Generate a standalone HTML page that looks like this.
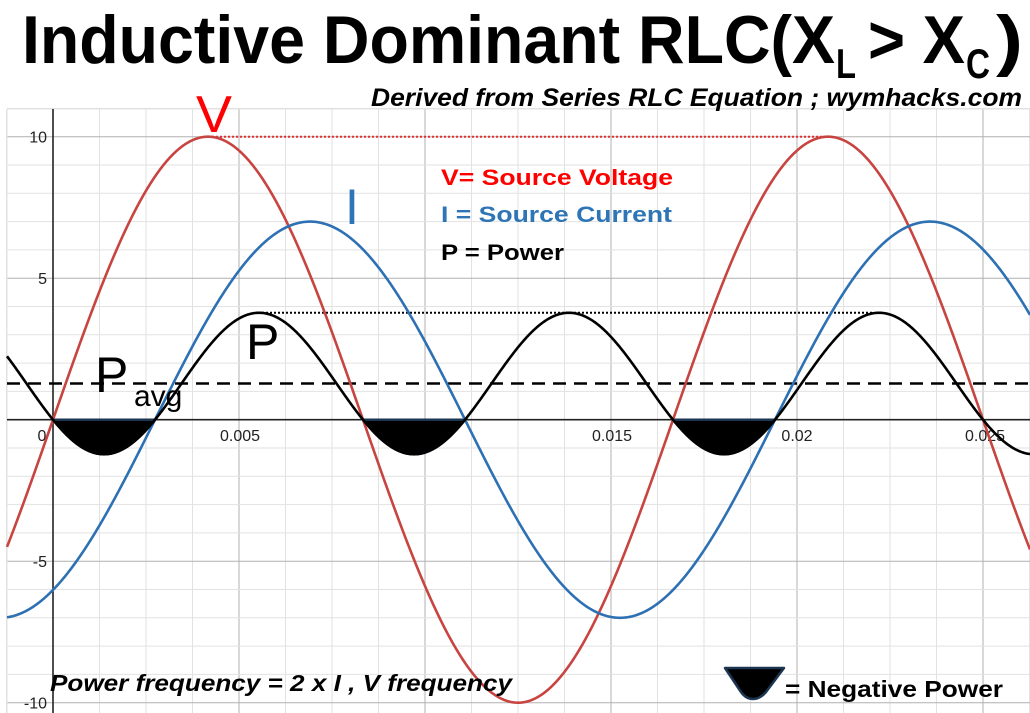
<!DOCTYPE html>
<html><head><meta charset="utf-8"><style>
html,body{margin:0;padding:0;background:#fff;}
svg{display:block;}
</style></head><body>
<svg id="s" width="1030" height="713" viewBox="0 0 1030 713" xmlns="http://www.w3.org/2000/svg">
<g id="grid"></g>
<g id="curves"></g>
<g id="labels" font-family="Liberation Sans, sans-serif">
<text x="22" y="63" font-size="68" font-weight="bold" textLength="813" lengthAdjust="spacingAndGlyphs">Inductive Dominant RLC(X</text>
<text x="836" y="78" font-size="42" font-weight="bold" textLength="20" lengthAdjust="spacingAndGlyphs">L</text>
<text x="868" y="63" font-size="68" font-weight="bold" textLength="97" lengthAdjust="spacingAndGlyphs">&gt; X</text>
<text x="966" y="78" font-size="42" font-weight="bold" textLength="24" lengthAdjust="spacingAndGlyphs">C</text>
<text x="996" y="63" font-size="68" font-weight="bold" textLength="27" lengthAdjust="spacingAndGlyphs">)</text>
<text x="371" y="106" font-size="25" font-weight="bold" font-style="italic" textLength="651" lengthAdjust="spacingAndGlyphs">Derived from Series RLC Equation ;  wymhacks.com</text>

<text x="196" y="132" font-size="52" fill="#ff0000" textLength="36" lengthAdjust="spacingAndGlyphs">V</text>
<text x="345" y="224" font-size="50" fill="#2e75b6">I</text>
<text x="246" y="359" font-size="50" fill="#000">P</text>
<text x="95" y="392" font-size="50" fill="#000">P</text>
<text x="134" y="406" font-size="30" fill="#000">avg</text>

<text x="441" y="185" font-size="22" font-weight="bold" fill="#ff0000" textLength="232" lengthAdjust="spacingAndGlyphs">V= Source Voltage</text>
<text x="441" y="222" font-size="22" font-weight="bold" fill="#2e75b6" textLength="231" lengthAdjust="spacingAndGlyphs">I = Source Current</text>
<text x="441" y="260" font-size="22" font-weight="bold" fill="#000" textLength="123" lengthAdjust="spacingAndGlyphs">P = Power</text>

<text x="50" y="691" font-size="23" font-weight="bold" font-style="italic" fill="#000" textLength="462" lengthAdjust="spacingAndGlyphs">Power frequency = 2 x I , V frequency</text>
<path d="M725,668 L784,668 L766,692 Q760,699 753,699 Q746,699 741,692 Z" fill="#000" stroke="#1c3550" stroke-width="2.5" stroke-linejoin="round"/>
<text x="785" y="697" font-size="23" font-weight="bold" fill="#000" textLength="218" lengthAdjust="spacingAndGlyphs">= Negative Power</text>
</g>
</svg>
<script>
(function(){
var NS="http://www.w3.org/2000/svg";
function el(p,n,a){var e=document.createElementNS(NS,n);for(var k in a)e.setAttribute(k,a[k]);p.appendChild(e);return e;}
var g=document.getElementById('grid'),c=document.getElementById('curves');
var X0=53,SX=37200,Y0=419.7,SY=28.3;
function X(t){return X0+t*SX;}function Y(v){return Y0-v*SY;}
var top=109,left=7;
for(var i=-1;i<=25;i++){var x=X(i*0.00125);if(x<left-1||x>1031)continue;
 el(g,'line',{x1:x,y1:top,x2:x,y2:713,stroke:(i%4==0)?'#b0b0b0':'#e2e2e2','stroke-width':1});}
for(var j=-11;j<=11;j++){var y=Y(j);if(y<top-1||y>713)continue;
 el(g,'line',{x1:left,y1:y,x2:1030,y2:y,stroke:(j%5==0)?'#b0b0b0':'#e2e2e2','stroke-width':1});}
el(g,'line',{x1:left,y1:top,x2:1030,y2:top,stroke:'#e2e2e2','stroke-width':1});
el(g,'line',{x1:left,y1:top,x2:left,y2:713,stroke:'#e2e2e2','stroke-width':1});
el(g,'line',{x1:left,y1:Y0,x2:1030,y2:Y0,stroke:'#222','stroke-width':1.6});
el(g,'line',{x1:X0,y1:top,x2:X0,y2:713,stroke:'#222','stroke-width':1.6});
var L=[["10",Y(10)],["5",Y(5)],["-5",Y(-5)],["-10",Y(-10)]];
L.forEach(function(a){var t=el(g,'text',{x:47,y:a[1]+6,'font-size':16,'text-anchor':'end',fill:'#222','font-family':'Liberation Sans, sans-serif'});t.textContent=a[0];});
var XL=[["0",42],["0.005",240],["0.015",612],["0.02",797],["0.025",985]];
XL.forEach(function(a){var t=el(g,'text',{x:a[1],y:441,'font-size':16,'text-anchor':'middle',fill:'#222','font-family':'Liberation Sans, sans-serif'});t.textContent=a[0];});
var w=2*Math.PI*60,ph=1.034,k=1/14;
function V(t){return 10*Math.sin(w*t);}
function I(t){return 7*Math.sin(w*t-ph);}
function P(t){return k*V(t)*I(t);}
function path(f){var d='';for(var x=left;x<=1030;x+=1){var t=(x-X0)/SX;d+=(d?'L':'M')+x.toFixed(1)+','+Y(f(t)).toFixed(2);}return d;}
var T=1/120, z1=ph/w;
for(var n=0;n<3;n++){var a=n*T,b=a+z1;
 var d='M'+X(a).toFixed(1)+','+Y0;for(var s=0;s<=60;s++){var t=a+(b-a)*s/60;d+='L'+X(t).toFixed(2)+','+Y(P(t)).toFixed(2);}d+='Z';
 el(c,'path',{d:d,fill:'#000',stroke:'#1c3550','stroke-width':2.5});}
var avg=k*35*Math.cos(ph);
el(c,'line',{x1:left,y1:Y(avg),x2:1030,y2:Y(avg),stroke:'#000','stroke-width':2.5,'stroke-dasharray':'13,8'});
el(c,'line',{x1:212,y1:Y(10),x2:827,y2:Y(10),stroke:'#e03030','stroke-width':2,'stroke-dasharray':'2,2'});
var pk=k*35*(1+Math.cos(ph));
el(c,'line',{x1:262,y1:Y(pk),x2:874,y2:Y(pk),stroke:'#000','stroke-width':2,'stroke-dasharray':'2,2'});
el(c,'path',{d:path(V),fill:'none',stroke:'#c74440','stroke-width':2.6});
el(c,'path',{d:path(I),fill:'none',stroke:'#2d70b3','stroke-width':2.6});
el(c,'path',{d:path(P),fill:'none',stroke:'#000','stroke-width':2.6});
})();
</script>
</body></html>
